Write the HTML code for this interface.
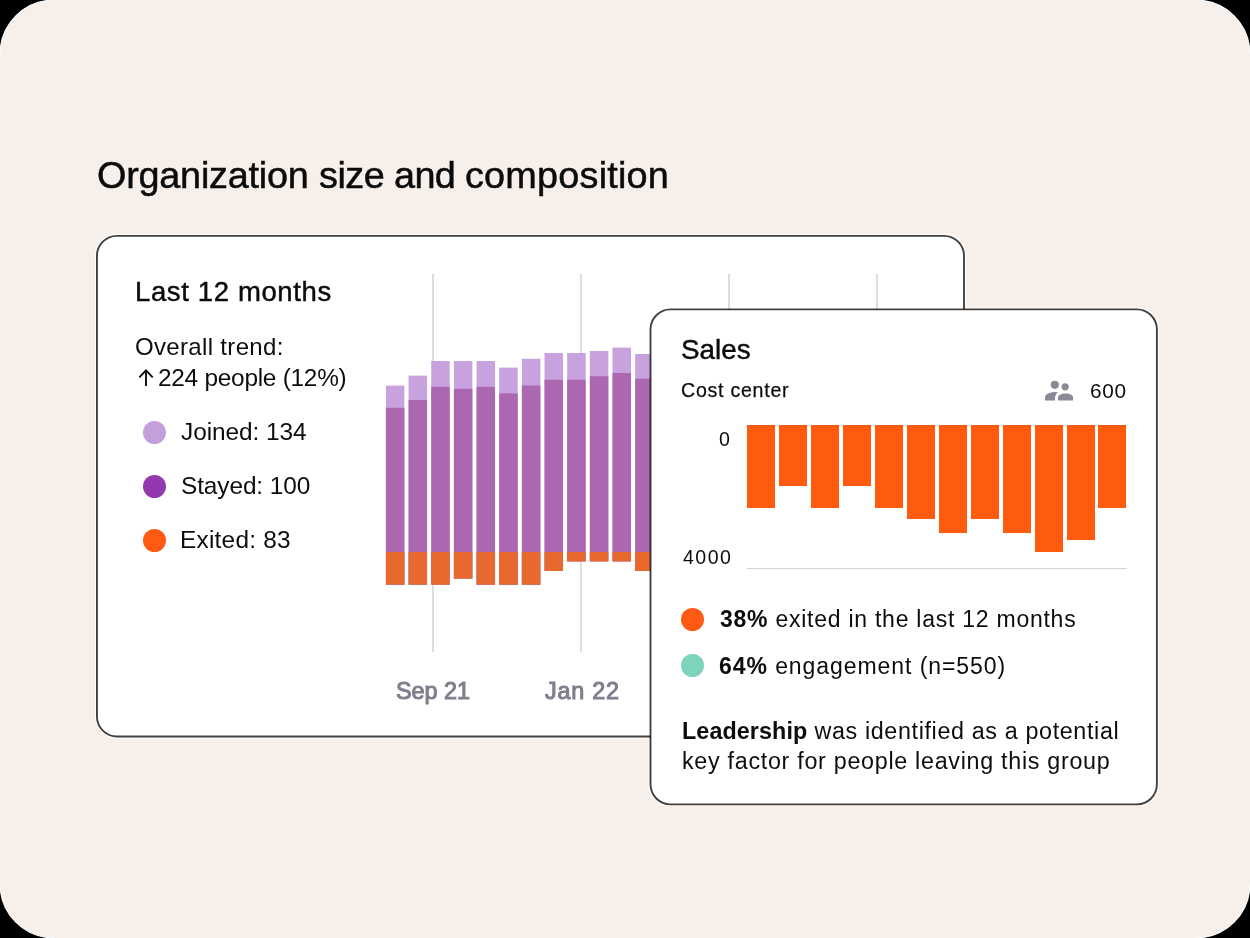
<!DOCTYPE html>
<html><head><meta charset="utf-8">
<style>
html,body{margin:0;padding:0;width:1250px;height:938px;overflow:hidden;background:#F6EFEA;}
body{font-family:"Liberation Sans",sans-serif;color:#0d0d0d;}
#bg{position:absolute;left:0;top:0;}
.t{position:absolute;white-space:nowrap;line-height:1;will-change:transform;}
.card{position:absolute;background:#fff;border:2px solid #444;border-radius:21px;box-sizing:border-box;box-shadow:0 0 0 1.2px #fff;}
.grid{position:absolute;width:2px;background:#DEDEDE;top:274px;height:378px;}
.bar{position:absolute;width:18.5px;}
.dot{position:absolute;width:23px;height:23px;border-radius:50%;}
.ob{position:absolute;width:28px;background:#FE5B0F;top:425px;}
</style></head>
<body>
<svg id="bg" width="1250" height="938" viewBox="0 0 1250 938"><g fill="#000"><path d="M0 0H54A54 54 0 0 0 0 54Z"/><path d="M1250 0V54A54 54 0 0 0 1196 0Z"/><path d="M0 938V884A54 54 0 0 0 54 938Z"/><path d="M1250 938H1196A54 54 0 0 0 1250 884Z"/></g><g fill="none" stroke="#fff" stroke-width="1.3" opacity="0.9"><path d="M53.7 0.2A53.5 53.5 0 0 0 0.2 53.7"/><path d="M1249.8 53.7A53.5 53.5 0 0 0 1196.3 0.2"/><path d="M0.2 884.3A53.5 53.5 0 0 0 53.7 937.8"/><path d="M1196.3 937.8A53.5 53.5 0 0 0 1249.8 884.3"/></g></svg>
<div class="t" style="left:96.60px;top:156.65px;font-size:37.80px;letter-spacing:-0.227px;font-weight:normal;color:#0b0b0b;-webkit-text-stroke:0.5px #0b0b0b;" id="title">Organization</div>
<div class="t" style="left:318.66px;top:156.65px;font-size:37.80px;letter-spacing:-0.507px;font-weight:normal;color:#0b0b0b;-webkit-text-stroke:0.5px #0b0b0b;" id="title2">size</div>
<div class="t" style="left:393.66px;top:156.65px;font-size:37.80px;letter-spacing:-0.630px;font-weight:normal;color:#0b0b0b;-webkit-text-stroke:0.5px #0b0b0b;" id="title3">and</div>
<div class="t" style="left:465.04px;top:156.65px;font-size:37.80px;letter-spacing:0.220px;font-weight:normal;color:#0b0b0b;-webkit-text-stroke:0.5px #0b0b0b;" id="title4">composition</div>
<svg style="position:absolute;left:0;top:0;" width="1250" height="938" viewBox="0 0 1250 938"><rect x="95.50999999999999" y="234.39000000000001" width="869.94" height="503.62" rx="21.45" fill="none" stroke="#fff" stroke-width="1.1"/><rect x="96.96" y="235.84" width="867.04" height="500.72" rx="20" fill="#fff" stroke="#000" stroke-opacity="0.74" stroke-width="1.9"/></svg>
<div class="grid" style="left:432px;"></div>
<div class="grid" style="left:580px;"></div>
<div class="grid" style="left:728px;"></div>
<div class="grid" style="left:876px;"></div>
<svg style="position:absolute;left:0;top:0;" width="1250" height="938" viewBox="0 0 1250 938"><rect x="385.90" y="385.6" width="18.5" height="199.10" fill="#C8A2DE"/><rect x="385.90" y="407.8" width="18.5" height="176.90" fill="#AB67B0"/><rect x="385.90" y="552" width="18.5" height="32.70" fill="#E8692E"/><rect x="408.56" y="375.6" width="18.5" height="209.10" fill="#C8A2DE"/><rect x="408.56" y="400" width="18.5" height="184.70" fill="#AB67B0"/><rect x="408.56" y="552" width="18.5" height="32.70" fill="#E8692E"/><rect x="431.22" y="361" width="18.5" height="223.70" fill="#C8A2DE"/><rect x="431.22" y="386.8" width="18.5" height="197.90" fill="#AB67B0"/><rect x="431.22" y="552" width="18.5" height="32.70" fill="#E8692E"/><rect x="453.88" y="361" width="18.5" height="217.60" fill="#C8A2DE"/><rect x="453.88" y="388.8" width="18.5" height="189.80" fill="#AB67B0"/><rect x="453.88" y="552" width="18.5" height="26.60" fill="#E8692E"/><rect x="476.54" y="361" width="18.5" height="223.70" fill="#C8A2DE"/><rect x="476.54" y="386.8" width="18.5" height="197.90" fill="#AB67B0"/><rect x="476.54" y="552" width="18.5" height="32.70" fill="#E8692E"/><rect x="499.20" y="367.6" width="18.5" height="217.10" fill="#C8A2DE"/><rect x="499.20" y="393.4" width="18.5" height="191.30" fill="#AB67B0"/><rect x="499.20" y="552" width="18.5" height="32.70" fill="#E8692E"/><rect x="521.86" y="358.8" width="18.5" height="225.90" fill="#C8A2DE"/><rect x="521.86" y="385.5" width="18.5" height="199.20" fill="#AB67B0"/><rect x="521.86" y="552" width="18.5" height="32.70" fill="#E8692E"/><rect x="544.52" y="353" width="18.5" height="218.00" fill="#C8A2DE"/><rect x="544.52" y="379.8" width="18.5" height="191.20" fill="#AB67B0"/><rect x="544.52" y="552" width="18.5" height="19.00" fill="#E8692E"/><rect x="567.18" y="353" width="18.5" height="208.40" fill="#C8A2DE"/><rect x="567.18" y="379.8" width="18.5" height="181.60" fill="#AB67B0"/><rect x="567.18" y="552" width="18.5" height="9.40" fill="#E8692E"/><rect x="589.84" y="351" width="18.5" height="210.40" fill="#C8A2DE"/><rect x="589.84" y="376.2" width="18.5" height="185.20" fill="#AB67B0"/><rect x="589.84" y="552" width="18.5" height="9.40" fill="#E8692E"/><rect x="612.50" y="347.6" width="18.5" height="213.80" fill="#C8A2DE"/><rect x="612.50" y="373" width="18.5" height="188.40" fill="#AB67B0"/><rect x="612.50" y="552" width="18.5" height="9.40" fill="#E8692E"/><rect x="635.16" y="354" width="18.5" height="217.00" fill="#C8A2DE"/><rect x="635.16" y="378.6" width="18.5" height="192.40" fill="#AB67B0"/><rect x="635.16" y="552" width="18.5" height="19.00" fill="#E8692E"/></svg>
<div class="t" style="left:134.66px;top:277.87px;font-size:27.50px;letter-spacing:0.630px;font-weight:normal;color:#0b0b0b;-webkit-text-stroke:0.45px #0b0b0b;" id="last12">Last 12 months</div>
<div class="t" style="left:134.76px;top:334.83px;font-size:24.00px;letter-spacing:0.328px;font-weight:normal;color:#0d0d0d;" id="overall">Overall trend:</div>
<div class="t" style="left:157.80px;top:365.50px;font-size:24.40px;letter-spacing:-0.255px;font-weight:normal;color:#0d0d0d;" id="people">224 people (12%)</div>
<svg style="position:absolute;left:130px;top:360px;" width="30" height="30" viewBox="130 360 30 30"><path d="M146 370.2V386M139.3 377.3L146 370.4L152.7 377.3" fill="none" stroke="#0d0d0d" stroke-width="1.9"/></svg>
<div class="dot" style="left:142.7px;top:420.9px;background:#C59FDB;"></div>
<div class="dot" style="left:142.7px;top:474.9px;background:#9438B0;"></div>
<div class="dot" style="left:142.7px;top:528.9px;background:#FF5A14;"></div>
<div class="t" style="left:181.22px;top:419.50px;font-size:24.40px;letter-spacing:-0.047px;font-weight:normal;color:#0d0d0d;" id="joined">Joined: 134</div>
<div class="t" style="left:180.94px;top:473.50px;font-size:24.40px;letter-spacing:-0.097px;font-weight:normal;color:#0d0d0d;" id="stayed">Stayed: 100</div>
<div class="t" style="left:180.36px;top:527.50px;font-size:24.40px;letter-spacing:0.237px;font-weight:normal;color:#0d0d0d;" id="exited">Exited: 83</div>
<div class="t" style="left:396.44px;top:679.84px;font-size:23.40px;letter-spacing:-0.024px;font-weight:normal;color:#7E7E8C;-webkit-text-stroke:1px #7E7E8C;" id="sep">Sep 21</div>
<div class="t" style="left:544.76px;top:679.84px;font-size:23.40px;letter-spacing:0.740px;font-weight:normal;color:#7E7E8C;-webkit-text-stroke:1px #7E7E8C;" id="jan">Jan 22</div>
<svg style="position:absolute;left:0;top:0;" width="1250" height="938" viewBox="0 0 1250 938"><clipPath id="c2h"><path clip-rule="evenodd" d="M0 0H1250V938H0Z M95 234H966V738.5H95Z"/></clipPath><rect clip-path="url(#c2h)" x="649.05" y="307.91" width="509.30" height="497.90" rx="21.45" fill="none" stroke="#fff" stroke-width="1.1"/><rect x="650.5" y="309.36" width="506.40" height="495.00" rx="20" fill="#fff" stroke="#000" stroke-opacity="0.74" stroke-width="1.9"/></svg>
<div class="t" style="left:681.12px;top:335.62px;font-size:27.80px;letter-spacing:0.010px;font-weight:normal;color:#0b0b0b;-webkit-text-stroke:0.45px #0b0b0b;" id="sales">Sales</div>
<div class="t" style="left:680.88px;top:380.56px;font-size:19.60px;letter-spacing:0.742px;font-weight:normal;color:#0d0d0d;-webkit-text-stroke:0.25px #0d0d0d;" id="cost">Cost center</div>
<svg style="position:absolute;left:1040px;top:375px;" width="40" height="30" viewBox="1040 375 40 30"><g fill="#8A8A96"><circle cx="1054.8" cy="384.8" r="4.1"/><circle cx="1065.2" cy="386.8" r="3.6"/><path d="M1045 400.6V397.8C1045 394 1049.5 392.1 1057.8 392.1C1055.6 394.2 1054.9 396.6 1054.9 400.6Z"/><path d="M1058 400.6V398C1058 395 1061 393.4 1065.5 393.4C1070 393.4 1073.1 395 1073.1 398V400.6Z"/></g></svg>
<div class="t" style="left:1089.62px;top:380.54px;font-size:20.80px;letter-spacing:0.730px;font-weight:normal;color:#0d0d0d;" id="600">600</div>
<div class="t" style="left:718.60px;top:429.56px;font-size:19.60px;letter-spacing:0.000px;font-weight:normal;color:#0d0d0d;" id="zero">0</div>
<div class="t" style="left:683.26px;top:547.56px;font-size:19.60px;letter-spacing:1.473px;font-weight:normal;color:#0d0d0d;" id="4000">4000</div>
<div style="position:absolute;left:747px;top:567.5px;width:380px;height:1.5px;background:#D3D3D3;"></div>
<div class="ob" style="left:746.70px;height:82.50px;"></div><div class="ob" style="left:778.68px;height:60.70px;"></div><div class="ob" style="left:810.66px;height:82.50px;"></div><div class="ob" style="left:842.64px;height:60.70px;"></div><div class="ob" style="left:874.62px;height:82.50px;"></div><div class="ob" style="left:906.60px;height:93.70px;"></div><div class="ob" style="left:938.58px;height:107.70px;"></div><div class="ob" style="left:970.56px;height:93.70px;"></div><div class="ob" style="left:1002.54px;height:107.70px;"></div><div class="ob" style="left:1034.52px;height:126.70px;"></div><div class="ob" style="left:1066.50px;height:114.80px;"></div><div class="ob" style="left:1098.48px;height:82.50px;"></div>
<div style="position:absolute;left:747px;top:424.5px;width:380px;height:1px;background:rgba(70,80,100,0.13);"></div>
<div class="dot" style="left:681px;top:608px;background:#FF5A14;"></div>
<div class="dot" style="left:681px;top:654.3px;background:#7ED3BC;"></div>
<div class="t" style="left:719.58px;top:607.68px;font-size:23.00px;letter-spacing:0.749px;font-weight:normal;color:#0d0d0d;" id="l38"><b>38%</b> exited in the last 12 months</div>
<div class="t" style="left:719.46px;top:654.68px;font-size:23.00px;letter-spacing:0.928px;font-weight:normal;color:#0d0d0d;" id="l64"><b>64%</b> engagement (n=550)</div>
<div class="t" style="left:681.62px;top:719.93px;font-size:23.30px;letter-spacing:0.644px;font-weight:normal;color:#0d0d0d;" id="p1"><b style="letter-spacing:0.1px">Leadership</b> was identified as a potential</div>
<div class="t" style="left:681.62px;top:750.43px;font-size:23.30px;letter-spacing:0.707px;font-weight:normal;color:#0d0d0d;" id="p2">key factor for people leaving this group</div>
</body></html>
